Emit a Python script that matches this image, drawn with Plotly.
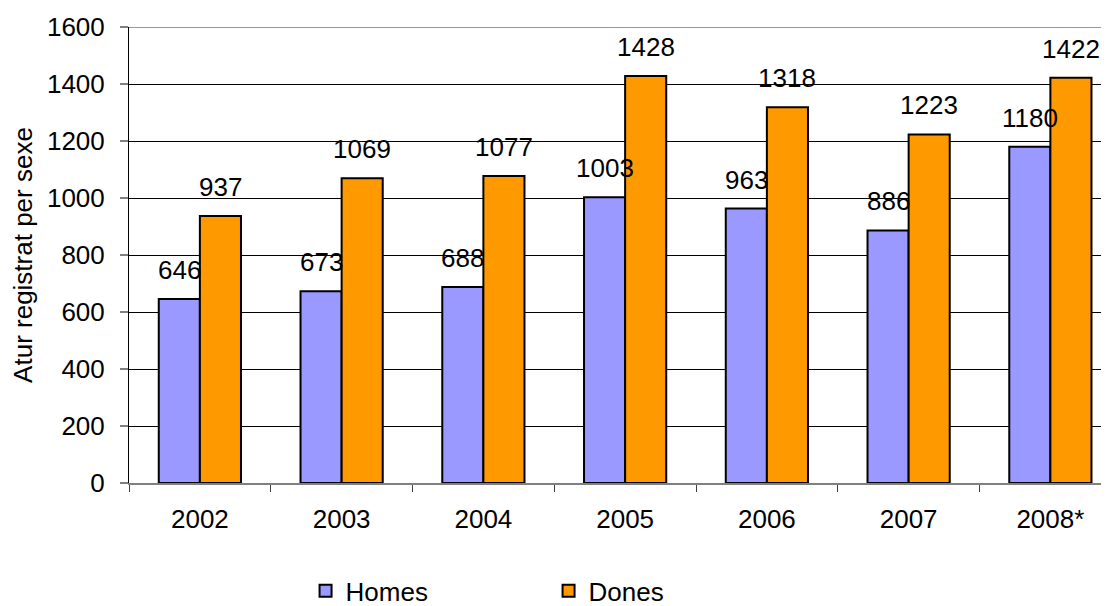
import plotly.graph_objects as go

years = ["2002", "2003", "2004", "2005", "2006", "2007", "2008*"]
homes = [646, 673, 688, 1003, 963, 886, 1180]
dones = [937, 1069, 1077, 1428, 1318, 1223, 1422]
series_names = ["Homes", "Dones"]
series_colors = ["#9999FF", "#FF9900"]
y_ticks = [0, 200, 400, 600, 800, 1000, 1200, 1400, 1600]

FONT = "Liberation Sans, Arial, sans-serif"
FS = 26
BAR_W = 0.29

fig = go.Figure()
for name, vals, col in zip(series_names, [homes, dones], series_colors):
    fig.add_trace(go.Bar(
        name=name, x=years, y=vals,
        marker=dict(color=col, line=dict(color="black", width=2)),
        width=BAR_W,
    ))

annotations = []
for k, vals in enumerate([homes, dones]):
    off = (k - 0.5) * BAR_W
    for i, v in enumerate(vals):
        annotations.append(dict(
            x=i + off, y=v, xref="x", yref="y", text=str(v), showarrow=False,
            yanchor="bottom", xanchor="center", yshift=12,
            font=dict(family=FONT, size=FS, color="black"),
        ))

fig.update_layout(
    width=1109, height=606,
    margin=dict(l=121, r=0, t=19, b=131, autoexpand=False),
    paper_bgcolor="white", plot_bgcolor="white",
    barmode="group", bargap=0.42, bargroupgap=0,
    font=dict(family=FONT, size=FS, color="black"),
    annotations=annotations,
    showlegend=True,
    legend=dict(
        orientation="h", x=0.1787, xanchor="left",
        yref="container", y=0.038, yanchor="middle",
        font=dict(family=FONT, size=FS, color="black"),
        entrywidth=198, entrywidthmode="pixels",
        bgcolor="rgba(0,0,0,0)", traceorder="normal",
    ),
    shapes=[dict(type="line", xref="paper", yref="y", x0=0, x1=1, y0=1600, y1=1600,
                 line=dict(color="#999999", width=2), layer="above")],
)

fig.update_xaxes(
    type="category", range=[-0.5, 6.47], automargin=False,
    showline=True, linecolor="#808080", linewidth=2,
    ticks="outside", tickson="boundaries", ticklen=7, tickcolor="#404040", tickwidth=1,
    showgrid=False, ticklabelstandoff=12,
    tickfont=dict(family=FONT, size=FS, color="black"),
)
fig.update_yaxes(
    range=[0, 1600], tickvals=y_ticks, automargin=False,
    showline=True, linecolor="black", linewidth=1,
    ticks="outside", ticklen=8, tickcolor="#808080", tickwidth=2,
    showgrid=True, gridcolor="black", gridwidth=1,
    zeroline=False, ticklabelstandoff=10,
    tickfont=dict(family=FONT, size=FS, color="black"),
    title=dict(text="Atur registrat per sexe", standoff=14,
               font=dict(family=FONT, size=FS, color="black")),
)

fig.write_html("out.html")
